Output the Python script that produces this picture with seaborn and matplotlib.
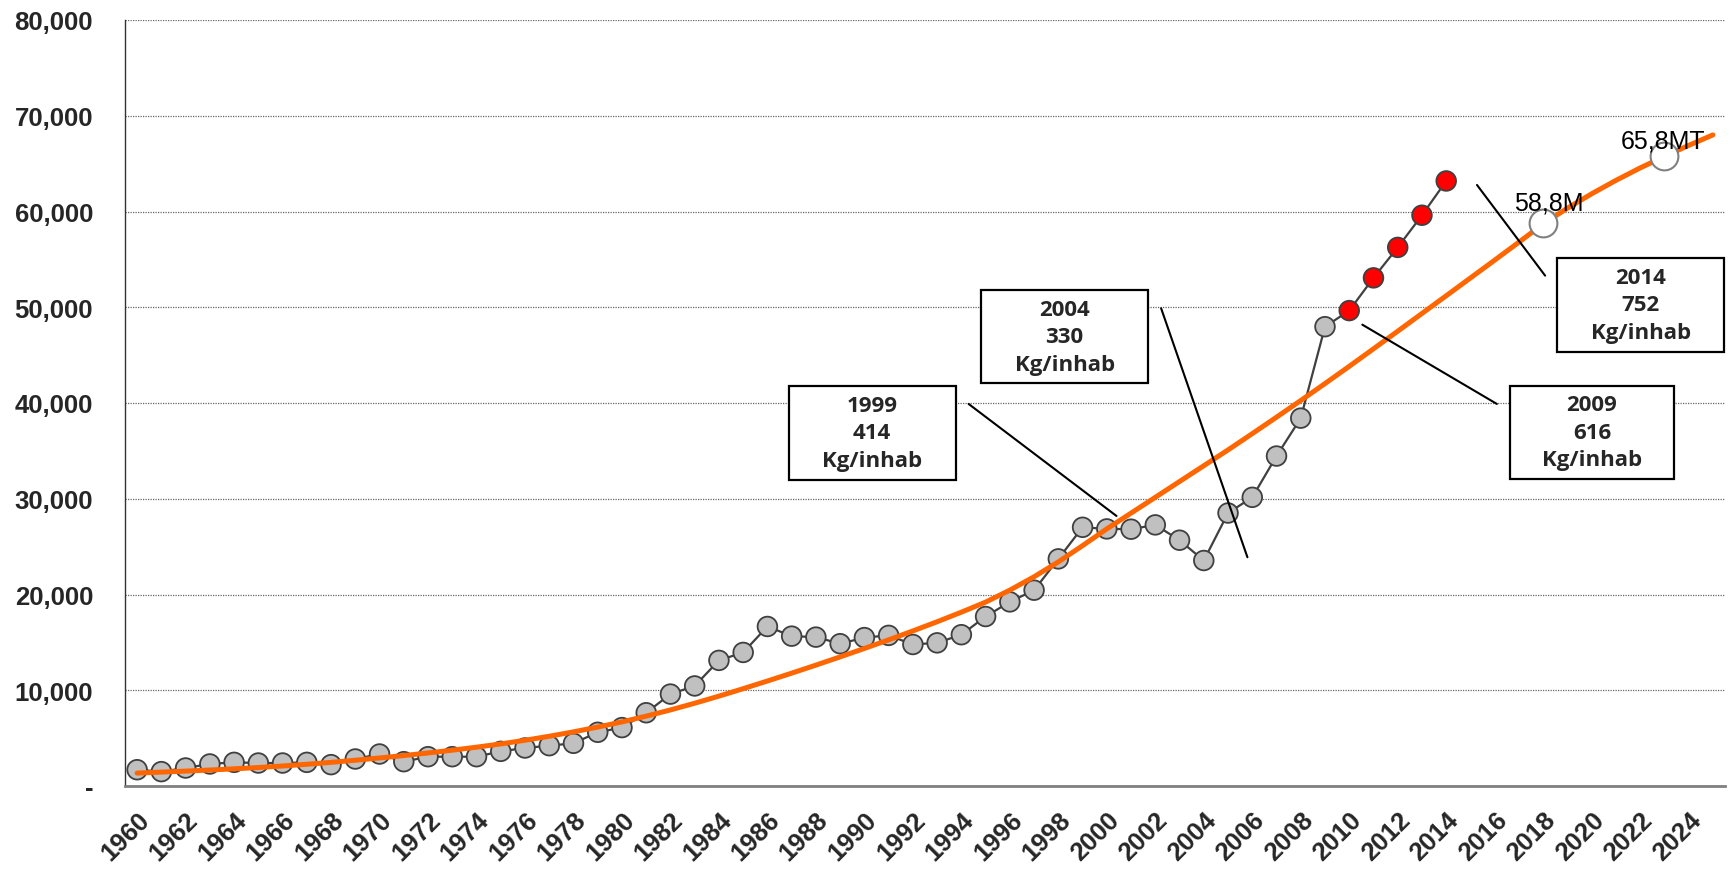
import numpy as np
import pandas as pd
import matplotlib
matplotlib.use('Agg')
import matplotlib.pyplot as plt
from matplotlib.patches import Rectangle
import seaborn as sns

# consumo anual (miles de t) 1960-2014
anios = list(range(1960, 2015))
consumo = [1700, 1500, 1880, 2300, 2470, 2400, 2400, 2470, 2230, 2820,
           3340, 2540, 3060, 3060, 3060, 3620, 3970, 4210, 4460, 5610,
           6100, 7650, 9600, 10450, 13120, 13950, 16660, 15650, 15550, 14860,
           15500, 15730, 14780, 14950, 15800, 17700, 19230, 20450, 23720, 27020,
           26850, 26820, 27270, 25670, 23550, 28510, 30150, 34460, 38420, 47970,
           49650, 53070, 56250, 59610, 63190]
anios_rojos = [2010, 2011, 2012, 2013, 2014]

# linea de tendencia 1960-2025
anios_tend = list(range(1960, 2026))
tendencia = [1350, 1450, 1555, 1670, 1795, 1930, 2090, 2270, 2470, 2690,
             2930, 3180, 3450, 3740, 4055, 4395, 4775, 5195, 5655, 6155,
             6695, 7295, 7945, 8645, 9385, 10165, 10965, 11785, 12625, 13485,
             14365, 15265, 16195, 17155, 18155, 19205, 20455, 21855, 23405, 25105,
             26855, 28500, 30150, 31800, 33450, 35100, 36800, 38520, 40260, 42030,
             43830, 45660, 47500, 49350, 51200, 53060, 54920, 56800, 58700, 60350,
             61850, 63250, 64550, 65750, 66900, 68000]

# proyecciones
anios_proy = [2018, 2023]
valores_proy = [58800, 65800]
etiquetas_proy = ['58,8M', '65,8MT']

# cuadros de texto: (izq, der, abajo, arriba) y lineas guia (inicio -> fin)
textos_cuadro = ['1999\n414\nKg/inhab', '2004\n330\nKg/inhab',
                 '2009\n616\nKg/inhab', '2014\n752\nKg/inhab']
cuadros = [(1986.88, 1993.76, 31990, 41810),
           (1994.82, 2001.70, 42060, 51800),
           (2016.63, 2023.39, 32060, 41810),
           (2018.58, 2025.47, 45360, 55190)]
guias = [((1994.30, 39900), (2000.40, 28200)),
         ((2002.24, 49890), (2005.80, 23890)),
         ((2010.54, 48180), (2016.09, 39900)),
         ((2015.27, 62770), (2018.08, 53300))]

sns.set_style('white')
plt.rcParams['font.family'] = ['Liberation Sans', 'DejaVu Sans']

df = pd.DataFrame({'anio': anios, 'consumo': consumo})
df['tipo'] = ['rojo' if a in anios_rojos else 'gris' for a in anios]
df_tend = pd.DataFrame({'anio': anios_tend, 'valor': tendencia})
df_proy = pd.DataFrame({'anio': anios_proy, 'valor': valores_proy})

fig = plt.figure(figsize=(17.33, 8.70), dpi=100)
ax = fig.add_axes([125 / 1733, 1 - 787 / 870, 1600 / 1733, 766 / 870])

sns.lineplot(data=df, x='anio', y='consumo', color='#404040', lw=1.6, ax=ax, zorder=2)
sns.scatterplot(data=df, x='anio', y='consumo', hue='tipo',
                palette={'gris': '#C0C0C0', 'rojo': '#FF0000'}, s=200,
                edgecolor='#404040', linewidth=1.3, legend=False, ax=ax, zorder=3)
sns.lineplot(data=df_tend, x='anio', y='valor', color='#FF6600', lw=3.6,
             solid_capstyle='round', ax=ax, zorder=4)
sns.scatterplot(data=df_proy, x='anio', y='valor', s=400, color='white',
                edgecolor='#808080', linewidth=1.5, ax=ax, zorder=5)

desplaz = [(6, 13), (-1.5, 8)]
for a, v, t, d in zip(anios_proy, valores_proy, etiquetas_proy, desplaz):
    ax.annotate(t, (a, v), xytext=d, textcoords='offset pixels', ha='center',
                va='baseline', fontsize=18, color='black', zorder=6)

for (x0, y0), (x1, y1) in guias:
    ax.annotate('', xy=(x1, y1), xytext=(x0, y0),
                arrowprops=dict(arrowstyle='-', color='black', lw=1.5,
                                shrinkA=0, shrinkB=0), zorder=6)

for (izq, der, abajo, arriba), txt in zip(cuadros, textos_cuadro):
    ax.add_patch(Rectangle((izq, abajo), der - izq, arriba - abajo, facecolor='white',
                           edgecolor='black', lw=1.6, zorder=7, clip_on=False))
    ax.text((izq + der) / 2, (abajo + arriba) / 2, txt, ha='center', va='center',
            fontsize=16, fontweight='bold', family=['Open Sans', 'DejaVu Sans'],
            linespacing=1.4, zorder=8)

ax.set_xlim(1959.5, 2025.5)
ax.set_ylim(0, 80000)

xt = list(range(1960, 2025, 2))
ax.set_xticks(xt, labels=[str(a) for a in xt])
ax.set_xticks(np.arange(1959.5, 2026, 1), minor=True)
ax.tick_params(axis='x', which='major', length=0, pad=15, labelsize=18.5)
ax.tick_params(axis='x', which='minor', length=6, width=1.1, color='#333333', direction='out')
for lbl in ax.get_xticklabels():
    lbl.set_fontweight('bold')
    lbl.set_rotation(45)
    lbl.set_ha('right')
    lbl.set_rotation_mode('anchor')

yt = list(range(0, 80001, 10000))
ax.set_yticks(yt, labels=['-' if v == 0 else f'{v:,}' for v in yt])
ax.tick_params(axis='y', length=6, width=1, color='#333333', pad=17, labelsize=18.5)
for lbl in ax.get_yticklabels():
    lbl.set_fontweight('bold')

ax.grid(axis='y', linestyle=(0, (1, 1)), color='#666666', lw=0.9)
ax.set_axisbelow(True)
ax.set_xlabel('')
ax.set_ylabel('')
for s in ['top', 'right']:
    ax.spines[s].set_visible(False)
ax.spines['left'].set_color('#333333')
ax.spines['left'].set_linewidth(1)
ax.spines['bottom'].set_color('#808080')
ax.spines['bottom'].set_linewidth(2)

fig.savefig('out.png', dpi=100)
